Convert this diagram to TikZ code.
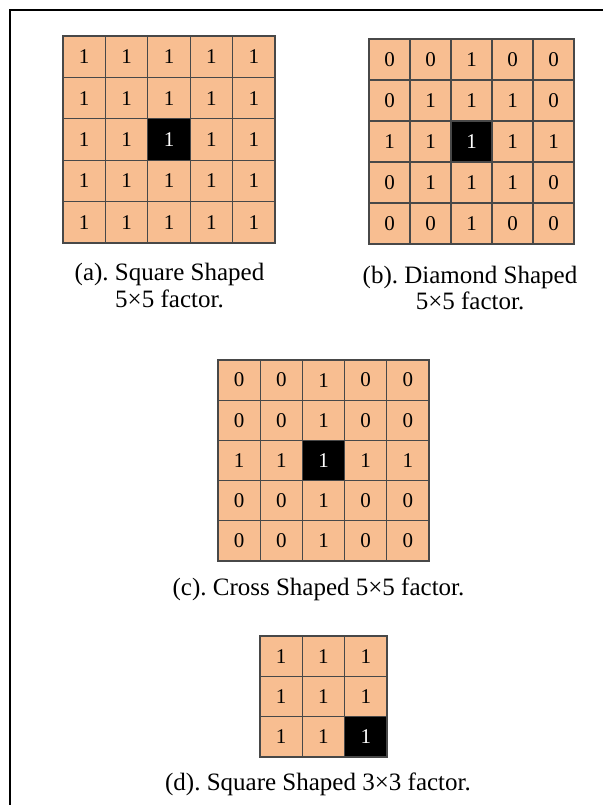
\documentclass[tikz,border=0pt]{standalone}
\usepackage{fontspec}
\setmainfont{Liberation Serif}
\frenchspacing
\definecolor{peach}{RGB}{248,190,145}
\definecolor{gridline}{RGB}{72,72,72}
\newcommand\drawgrid[8]{%
  \foreach \row [count=\r] in {#6} {%
    \foreach \v [count=\c] in \row {%
      \def\cf{peach}\def\tc{black}%
      \ifnum\r=#7 \ifnum\c=#8 \def\cf{black}\def\tc{white}\fi\fi
      \node[cellbox, minimum width=#4pt, minimum height=#5pt, fill=\cf, text=\tc]
        (#1-\r-\c) at ({#2+(\c-0.5)*#4},{#3+(\r-0.5)*#5}) {\v};
    }%
  }%
}
\begin{document}
\begin{tikzpicture}[x=1pt,y=-1pt,
  cellbox/.style={draw=gridline, line width=1.3pt, inner sep=0pt, outer sep=0pt,
    font=\fontsize{21}{23}\selectfont},
  captext/.style={anchor=base, inner sep=0pt, font=\fontsize{25}{27}\selectfont\frenchspacing},
  framestyle/.style={line width=2pt, black}]
\useasboundingbox (0,0) rectangle (603,805);
\fill[white] (0,0) rectangle (603,805);
\draw[framestyle] (10,805) -- (10,10) -- (603,10);

% (a)
\drawgrid{a}{63}{36}{42.4}{41.4}{{1,1,1,1,1},{1,1,1,1,1},{1,1,1,1,1},{1,1,1,1,1},{1,1,1,1,1}}{3}{3}
\node[captext] (capa1) at (169.5,280.5) {(a). Square Shaped};
\node[captext] (capa2) at (169.5,307) {5×5 factor.};

% (b)
\drawgrid{b}{369}{39}{41}{41}{{0,0,1,0,0},{0,1,1,1,0},{1,1,1,1,1},{0,1,1,1,0},{0,0,1,0,0}}{3}{3}
\node[captext] (capb1) at (470,283.5) {(b). Diamond Shaped};
\node[captext] (capb2) at (470,309) {5×5 factor.};

% (c)
\drawgrid{c}{218}{360}{42.2}{40.2}{{0,0,1,0,0},{0,0,1,0,0},{1,1,1,1,1},{0,0,1,0,0},{0,0,1,0,0}}{3}{3}
\node[captext] (capc) at (318.5,595.5) {(c). Cross Shaped 5×5 factor.};

% (d)
\drawgrid{d}{260}{636}{42.3}{40.3}{{1,1,1},{1,1,1},{1,1,1}}{3}{3}
\node[captext] (capd) at (318,790) {(d). Square Shaped 3×3 factor.};
\end{tikzpicture}
\end{document}
